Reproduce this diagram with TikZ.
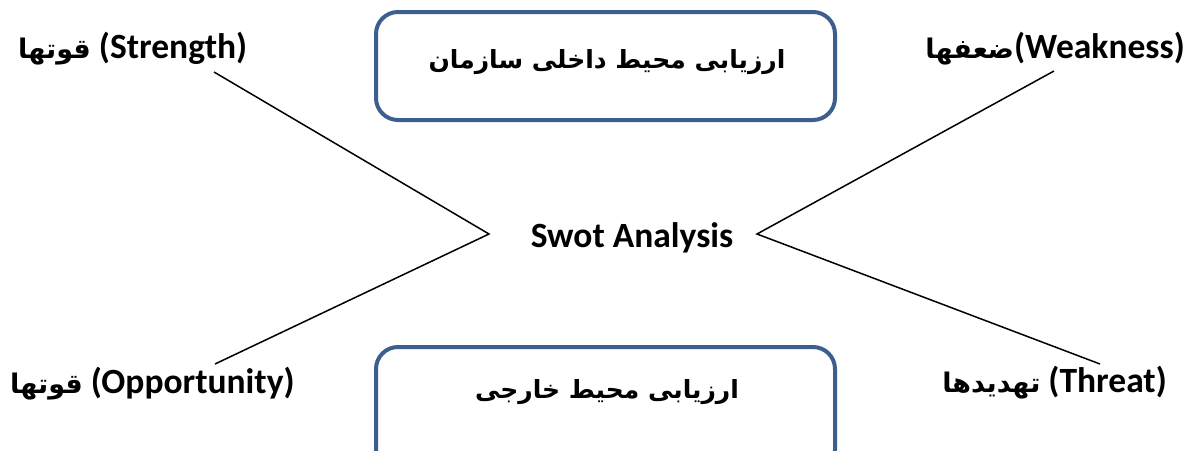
\documentclass[tikz,border=0pt]{standalone}
\usepackage{fontspec}
\setmainfont{Carlito}
\newfontfamily\arabicfont[Script=Arabic]{DejaVu Sans}
\TeXXeTstate=1
\definecolor{panelblue}{HTML}{3C5F8E}
\newcommand{\fa}[1]{{\arabicfont\bfseries\beginR #1\endR}}
\newcommand{\lfa}[1]{{\fontsize{27}{30}\selectfont\fa{#1}}}

\begin{document}
\begin{tikzpicture}[x=1pt, y=-1pt,
    panel/.style={draw=panelblue, line width=4pt, rounded corners=22pt, minimum width=459pt},
    lbl/.style={font=\fontsize{35.5}{40}\selectfont\bfseries, inner sep=0pt},
    intitle/.style={font=\fontsize{25}{30}\selectfont, inner sep=0pt},
    link/.style={line width=1.5pt}]
    \clip (0,0) rectangle (1189,450);

    % the two panels
    \node[panel, minimum height=108pt] (inner) at (605.5,66) {};
    \node[intitle, anchor=base] (innerT) at (607,68) {\fa{ارزیابی محیط داخلی سازمان}};
    \node[panel, minimum height=125pt, anchor=north] (outer) at (605.5,345) {};
    \node[intitle, anchor=base] (outerT) at (607,398) {\fa{ارزیابی محیط خارجی}};

    % labels
    \node[lbl, anchor=base] (swot) at (632,247) {Swot Analysis};
    \node[lbl, anchor=base west] (str) at (18,58) {\lfa{قوتها} (Strength)};
    \node[lbl, anchor=base east] (wea) at (1185,58) {\lfa{ضعفها}(Weakness)};
    \node[lbl, anchor=base west] (opp) at (10,393) {\lfa{قوتها} (Opportunity)};
    \node[lbl, anchor=base east] (thr) at (1167,392) {\lfa{تهدیدها} (Threat)};

    % the two wedges
    \coordinate (lv) at (489,234);
    \coordinate (rv) at (757,234);
    \coordinate (strE) at (214,72);
    \coordinate (oppE) at (215,364);
    \coordinate (weaE) at (1054,71);
    \coordinate (thrE) at (1100,364);
    \draw[link] (strE) -- (lv) -- (oppE);
    \draw[link] (weaE) -- (rv) -- (thrE);
\end{tikzpicture}
\end{document}
